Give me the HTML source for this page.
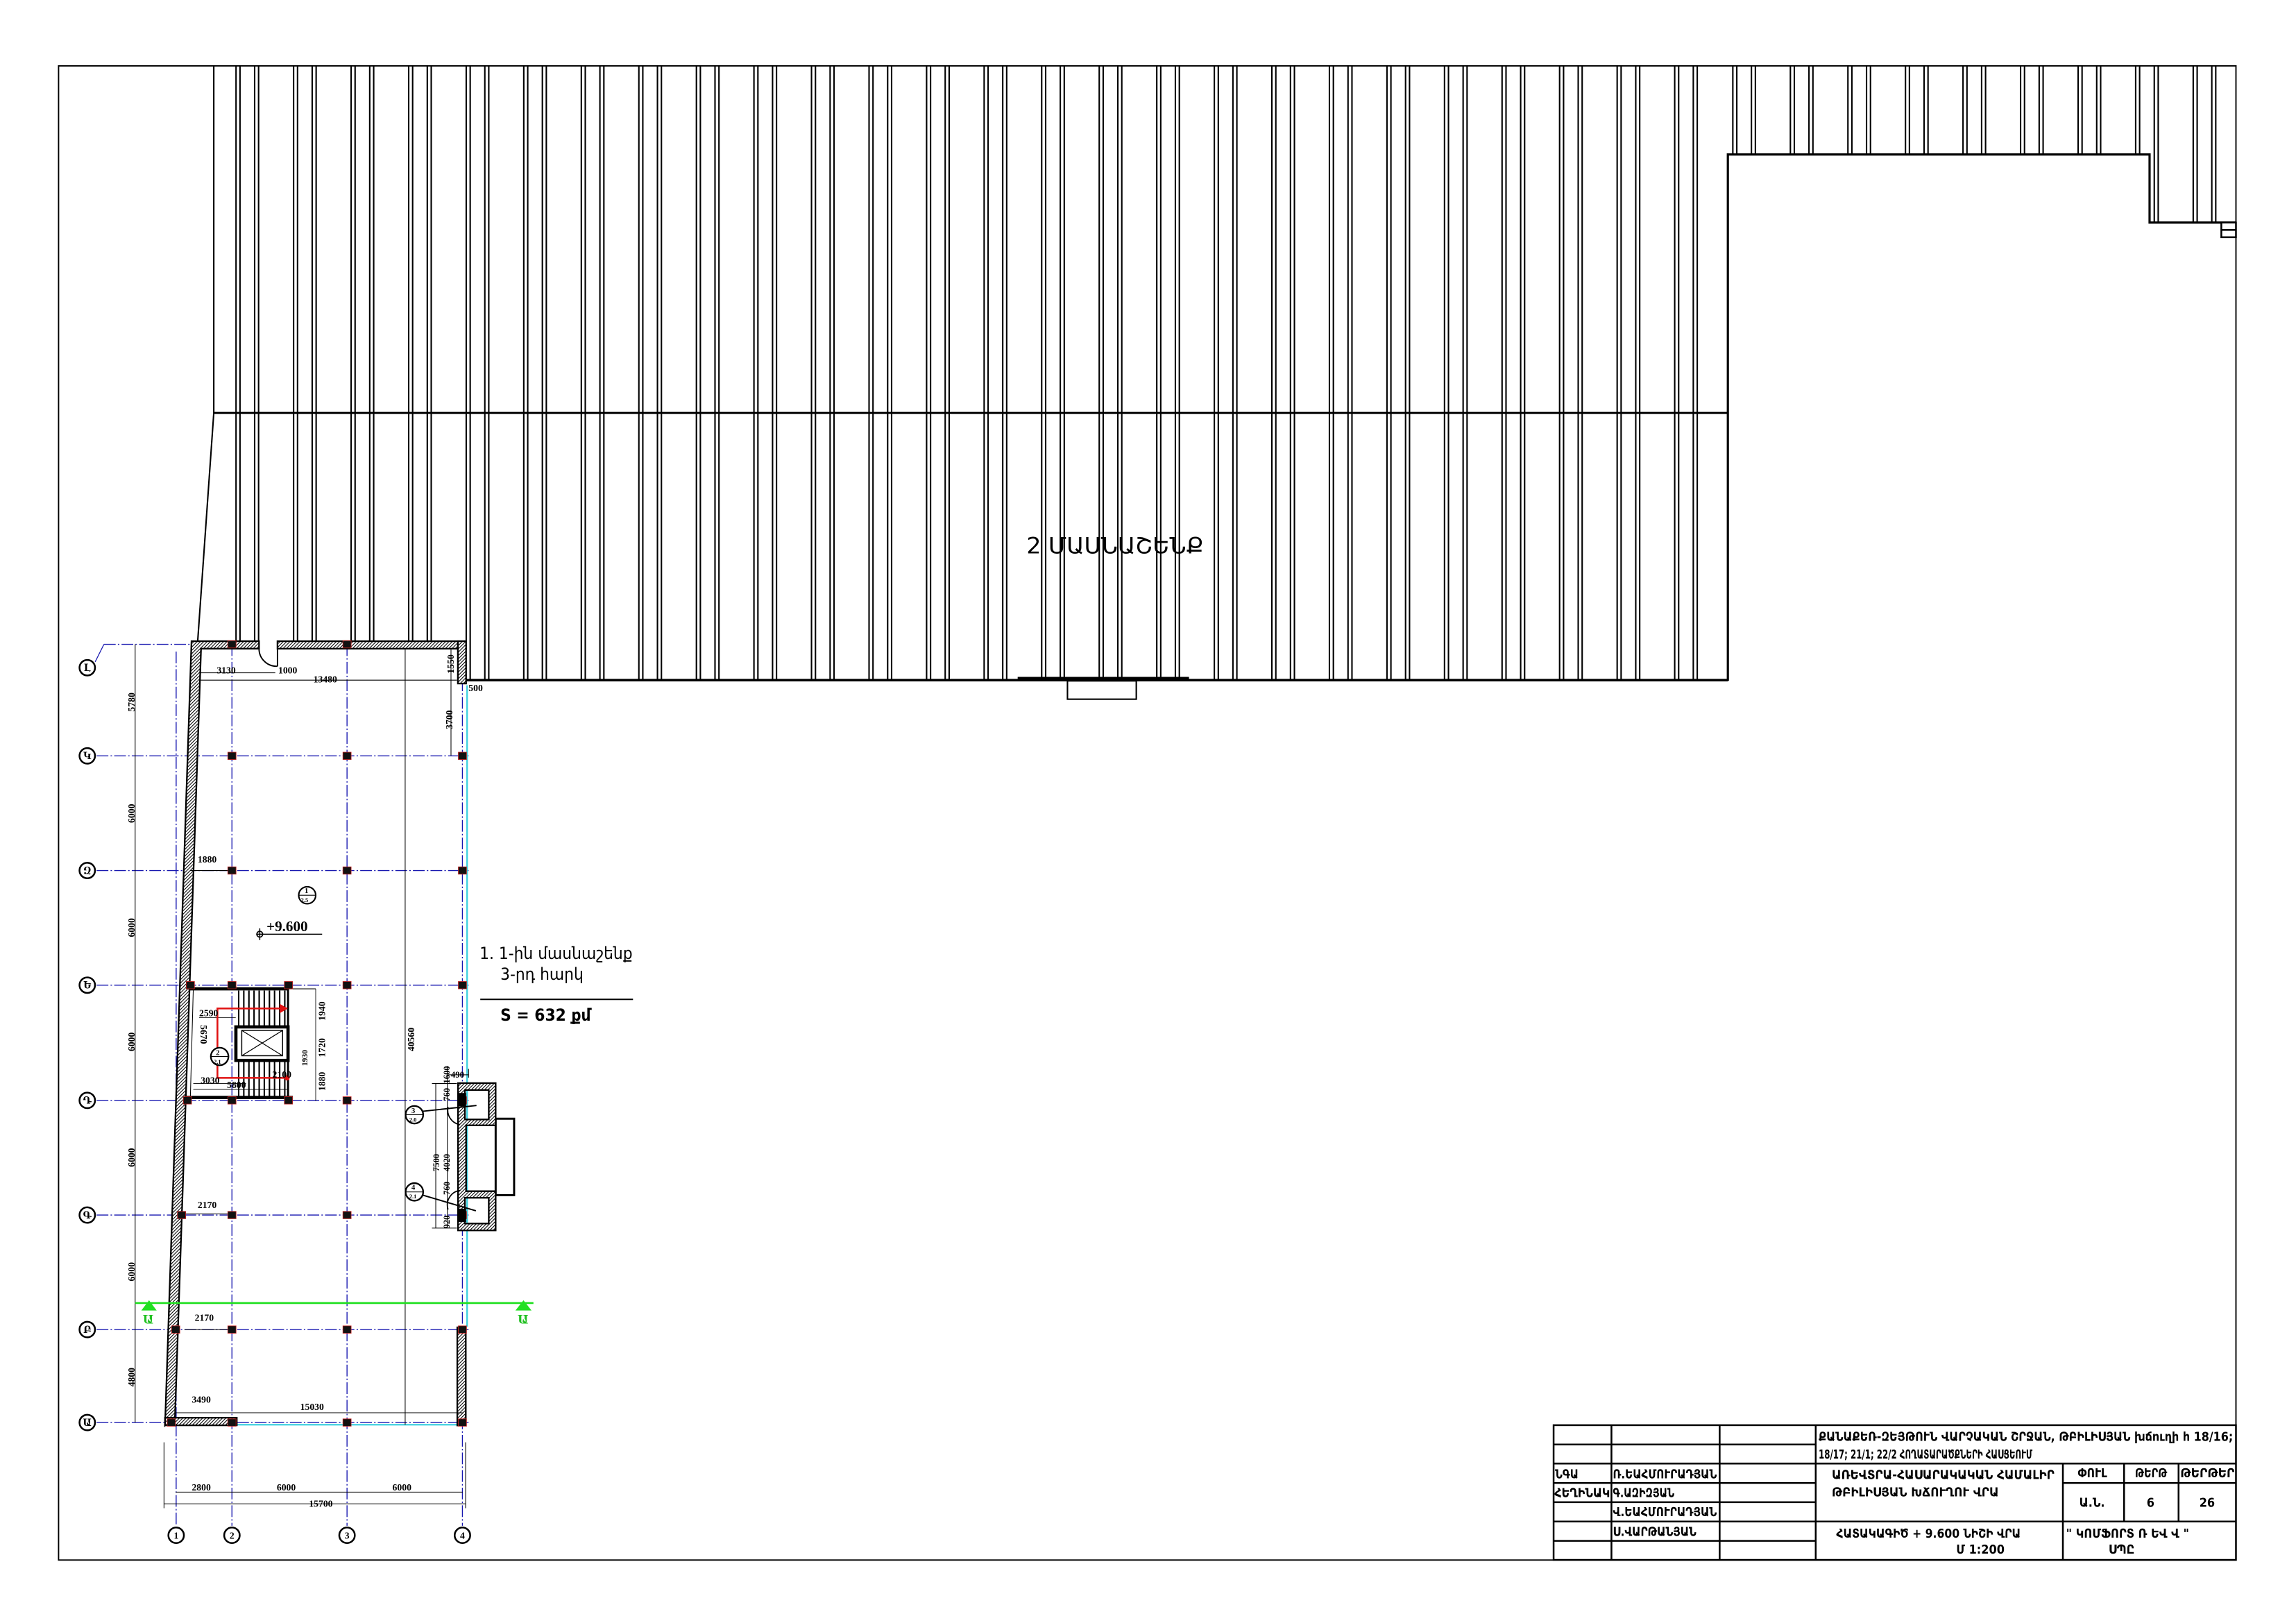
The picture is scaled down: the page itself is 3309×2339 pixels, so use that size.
<!DOCTYPE html>
<html><head><meta charset="utf-8"><style>
html,body{margin:0;padding:0;background:#fff;}
svg{display:block;}
.t{font-family:"Liberation Serif","DejaVu Serif",serif;font-weight:bold;fill:#000;}
.a{font-family:"DejaVu Sans Condensed","DejaVu Sans",sans-serif;fill:#000;}
.b{font-weight:bold;}
</style></head><body>
<svg id="s" xmlns="http://www.w3.org/2000/svg" width="3309" height="2339" viewBox="0 0 1568 1108.4" preserveAspectRatio="none">
<defs>
<pattern id="h" patternUnits="userSpaceOnUse" width="1.6" height="1.6" patternTransform="rotate(45)">
<rect width="1.6" height="1.6" fill="#fff"/><line x1="0" y1="0" x2="0" y2="1.6" stroke="#000" stroke-width="1"/>
</pattern>
</defs>
<rect width="1568" height="1108.4" fill="#fff"/>
<rect x="40" y="45" width="1487" height="1020.4" fill="none" stroke="#000" stroke-width="0.9"/>

<g id="hatchlines" stroke="#000" stroke-width="1"></g>

<g stroke="#000" fill="none">
<line x1="146" y1="45" x2="146" y2="282" stroke-width="1"/>
<line x1="146" y1="282" x2="135" y2="438" stroke-width="1"/>
<line x1="146" y1="282" x2="1180" y2="282" stroke-width="1.4"/>
<line x1="318" y1="464.5" x2="1180" y2="464.5" stroke-width="1.7"/>
<line x1="695" y1="463" x2="812" y2="463" stroke-width="1.5"/>
<rect x="729" y="465" width="47" height="12.5" stroke-width="1" fill="#fff"/>
<polyline points="1180,465 1180,105.5 1468,105.5 1468,152 1527,152" stroke-width="1.5"/>
<rect x="1517" y="152" width="10" height="10" stroke-width="1.2" fill="#fff"/>
<line x1="1517" y1="157" x2="1527" y2="157" stroke-width="1.2"/>
</g>
<text x="701" y="378" class="a" font-size="15" textLength="121" lengthAdjust="spacingAndGlyphs">2 ՄԱՍՆԱՇԵՆՔ</text>

<polygon points="131,442 318.6,442 318.6,468 320,468 320,975 112.7,975" fill="#fff"/>

<g stroke="#1818b0" stroke-width="0.65" stroke-dasharray="8,1.5,1,1.5">
<line x1="66" y1="516.2" x2="320" y2="516.2"/>
<line x1="66" y1="594.5" x2="320" y2="594.5"/>
<line x1="66" y1="672.8" x2="320" y2="672.8"/>
<line x1="66" y1="751.5" x2="320" y2="751.5"/>
<line x1="66" y1="829.8" x2="320" y2="829.8"/>
<line x1="66" y1="908" x2="320" y2="908"/>
<line x1="66" y1="971.5" x2="320" y2="971.5"/>
<line x1="71" y1="440" x2="135" y2="440"/>
<line x1="120.3" y1="445" x2="120.3" y2="1042"/>
<line x1="158.4" y1="440" x2="158.4" y2="1042"/>
<line x1="237" y1="440" x2="237" y2="1042"/>
<line x1="315.8" y1="440" x2="315.8" y2="1042"/>
</g>
<line x1="65" y1="452" x2="71" y2="440" stroke="#1818b0" stroke-width="0.6"/>

<g stroke="#3fd0e0" stroke-width="1.1">
<line x1="319" y1="468" x2="319" y2="906"/>
<line x1="161.5" y1="973" x2="315" y2="973"/>
</g>

<g fill="url(#h)" stroke="#000" stroke-width="1.1">
<polygon points="130.8,437.9 176.9,437.9 176.9,443 137.3,443 119.5,968 112.7,973.5"/>
<rect x="189.5" y="437.9" width="128.8" height="5.1"/>
<rect x="312.7" y="437.9" width="5.6" height="28.9"/>
<rect x="112.7" y="968.2" width="49" height="5.2"/>
<rect x="312.3" y="906.5" width="5.8" height="67"/>
</g>
<path d="M176.9,443 A12,12 0 0 0 189.5,455" fill="none" stroke="#000" stroke-width="0.9"/>
<line x1="189.5" y1="443" x2="189.5" y2="455" stroke="#000" stroke-width="0.9"/>
<g stroke="#000" stroke-width="0.5" fill="none">
<line x1="137" y1="459.5" x2="188" y2="459.5"/>
<line x1="137" y1="464.5" x2="312" y2="464.5"/>
<line x1="276.7" y1="443" x2="276.7" y2="973"/>
<line x1="308" y1="443" x2="308" y2="516"/>
<line x1="120" y1="964.8" x2="316" y2="964.8"/>
<line x1="124" y1="829" x2="158" y2="829"/>
<line x1="126" y1="908" x2="158" y2="908"/>
<line x1="130" y1="594.5" x2="158" y2="594.5"/>
<line x1="92.3" y1="440" x2="92.3" y2="971.5"/>
<line x1="112" y1="985" x2="112" y2="1030"/>
<line x1="318" y1="985" x2="318" y2="1030"/>
<line x1="120" y1="1019" x2="316" y2="1019"/>
<line x1="112" y1="1027" x2="318" y2="1027"/>
</g>
<g class="t" font-size="6.5">
<text x="148" y="460">3130</text>
<text x="190" y="460">1000</text>
<text x="214" y="466">13480</text>
<text x="320" y="472">500</text>
<text x="135" y="589">1880</text>
<text x="135" y="825">2170</text>
<text x="133" y="902">2170</text>
<text x="131" y="958">3490</text>
<text x="205" y="963">15030</text>
<text x="131" y="1018">2800</text>
<text x="189" y="1018">6000</text>
<text x="268" y="1018">6000</text>
<text x="211" y="1029">15700</text>
<text transform="translate(310,460) rotate(-90)">1550</text>
<text transform="translate(309,498) rotate(-90)">3700</text>
<text transform="translate(283,718) rotate(-90)">40560</text>
<text transform="translate(92,486) rotate(-90)">5780</text>
<text transform="translate(92,562) rotate(-90)">6000</text>
<text transform="translate(92,640) rotate(-90)">6000</text>
<text transform="translate(92,718) rotate(-90)">6000</text>
<text transform="translate(92,797) rotate(-90)">6000</text>
<text transform="translate(92,875) rotate(-90)">6000</text>
<text transform="translate(92,947) rotate(-90)">4800</text>
</g>

<g stroke="#000" fill="none">
<line x1="128.7" y1="675.3" x2="196.7" y2="675.3" stroke-width="2.2"/>
<line x1="196.7" y1="675.3" x2="215.6" y2="675.3" stroke-width="0.5"/>
<line x1="126" y1="749.5" x2="200" y2="749.5" stroke-width="2.2"/>
<line x1="132" y1="675.3" x2="130" y2="749.5" stroke-width="0.5"/>
<line x1="196.7" y1="675" x2="196.7" y2="750" stroke-width="1.4"/>
<rect x="161.1" y="701.3" width="35.6" height="22.9" stroke-width="2.2"/>
<rect x="165.1" y="703.7" width="27.9" height="17.3" stroke-width="0.7"/>
<path d="M165.1,703.7 L193,721 M193,703.7 L165.1,721" stroke-width="0.6"/>
<line x1="136" y1="695" x2="161" y2="695" stroke-width="0.4"/>
<line x1="132" y1="744" x2="196" y2="744" stroke-width="0.4"/>
<line x1="132" y1="740" x2="168" y2="740" stroke-width="0.4"/>
<line x1="215.6" y1="675.3" x2="215.6" y2="752" stroke-width="0.4"/>
</g>
<g id="treads" stroke="#000" stroke-width="1"></g>
<g stroke="#e01010" stroke-width="1.2" fill="none">
<polyline points="196,688.7 148.5,688.7 148.5,736.1 196,736.1"/>
</g>
<polygon points="191,685.5 196.5,688.7 191,692" fill="#e01010"/>
<circle cx="196" cy="736.1" r="1.8" fill="#e01010"/>
<g class="t" font-size="6.5">
<text x="136" y="694">2590</text>
<text x="137" y="740">3030</text>
<text x="155" y="743">5800</text>
<text x="186" y="736">2100</text>
<text transform="translate(222,697) rotate(-90)">1940</text>
<text transform="translate(222,722) rotate(-90)">1720</text>
<text transform="translate(222,745) rotate(-90)">1880</text>
<text transform="translate(137,700) rotate(90)">5670</text>
<text transform="translate(210,728) rotate(-90)" font-size="5.5">1930</text>
</g>
<circle cx="150" cy="721.5" r="6" fill="#fff" stroke="#000" stroke-width="1.1"/>
<line x1="144" y1="721.5" x2="156" y2="721.5" stroke="#000" stroke-width="0.5"/>
<text x="147.5" y="720.5" class="t" font-size="5">2</text>
<text x="146" y="726.5" class="t" font-size="4">2.1</text>

<g id="cols" fill="#111" stroke="#c02020" stroke-width="0.4"></g>

<circle cx="209.8" cy="611.4" r="5.8" fill="#fff" stroke="#000" stroke-width="1"/>
<line x1="204" y1="611.4" x2="215.6" y2="611.4" stroke="#000" stroke-width="0.5"/>
<text x="208" y="610" class="t" font-size="5">1</text>
<text x="205.5" y="616" class="t" font-size="4">2.5</text>
<line x1="175" y1="638" x2="220" y2="638" stroke="#000" stroke-width="0.7"/>
<circle cx="177.4" cy="638" r="2" fill="none" stroke="#000" stroke-width="0.8"/>
<line x1="177.4" y1="634" x2="177.4" y2="642" stroke="#000" stroke-width="0.7"/>
<text x="182" y="636" class="t" font-size="10" font-weight="normal">+9.600</text>

<text x="327.5" y="655" class="a" font-size="11.5">1. 1-ին մասնաշենք</text>
<text x="341.7" y="669" class="a" font-size="11.5">3-րդ հարկ</text>
<line x1="328" y1="682.5" x2="432.3" y2="682.5" stroke="#000" stroke-width="0.9"/>
<text x="341.7" y="697" class="a b" font-size="11.5">S = 632 քմ</text>

<g stroke="#000" stroke-width="1.1">
<rect x="338.5" y="764" width="12.6" height="52.2" fill="#fff" stroke-width="1.4"/>
<path d="M312.8,739.7 H338.5 V768.5 H318.3 V813.5 H338.5 V840.3 H312.8 Z M317.5,744.4 V764.5 H333.8 V744.4 Z M317.5,818 V835.6 H333.8 V818 Z" fill="url(#h)" fill-rule="evenodd"/>
<rect x="312.8" y="747" width="5" height="8" fill="#000"/>
<rect x="312.8" y="826" width="5" height="8" fill="#000"/>
</g>
<g stroke="#000" stroke-width="0.5" fill="none">
<line x1="297.6" y1="740" x2="297.6" y2="838.7"/>
<line x1="305.5" y1="728" x2="305.5" y2="838.7"/>
<line x1="295" y1="740" x2="312" y2="740"/>
<line x1="295" y1="838.7" x2="312" y2="838.7"/>
<line x1="288" y1="759" x2="325.4" y2="755" stroke-width="0.9"/>
<line x1="288" y1="816" x2="325" y2="826.9" stroke-width="0.9"/>
<path d="M306,756 A10,10 0 0 0 314,768" stroke-width="0.8"/>
<path d="M314,813 A10,10 0 0 0 306,826" stroke-width="0.8"/>
<line x1="306" y1="734" x2="320" y2="734"/>
<line x1="320" y1="730" x2="320" y2="736"/>
</g>
<circle cx="283" cy="761.3" r="6" fill="#fff" stroke="#000" stroke-width="1.1"/>
<line x1="277" y1="761.3" x2="289" y2="761.3" stroke="#000" stroke-width="0.5"/>
<text x="281" y="760" class="t" font-size="5">3</text><text x="279.5" y="766" class="t" font-size="4">2.0</text>
<circle cx="283" cy="814" r="6" fill="#fff" stroke="#000" stroke-width="1.1"/>
<line x1="277" y1="814" x2="289" y2="814" stroke="#000" stroke-width="0.5"/>
<text x="281" y="812.5" class="t" font-size="5">4</text><text x="279.5" y="818.5" class="t" font-size="4">2.1</text>
<g class="t" font-size="6">
<text transform="translate(300,800) rotate(-90)">7500</text>
<text transform="translate(307,800) rotate(-90)">4020</text>
<text transform="translate(307,752) rotate(-90)">760</text>
<text transform="translate(307,816) rotate(-90)">760</text>
<text transform="translate(307,839) rotate(-90)">920</text>
<text transform="translate(307,740) rotate(-90)">1600</text>
<text x="308" y="736">490</text>
</g>

<line x1="92.3" y1="889.9" x2="364.3" y2="889.9" stroke="#22e022" stroke-width="1.3"/>
<polygon points="96.5,895 101.8,888 107,895" fill="#22e022"/>
<polygon points="352,895 357.5,888 363,895" fill="#22e022"/>
<text x="97.5" y="904" class="t" font-size="8" style="fill:#22c022">Ա</text>
<text x="353.5" y="904" class="t" font-size="8" style="fill:#22c022">Ա</text>

<g id="bub" class="t" font-size="6.5" text-anchor="middle"></g>

<g stroke="#000" stroke-width="1.2" fill="none">
<rect x="1061" y="973.3" width="466" height="92"/>
<line x1="1061" y1="986.5" x2="1240" y2="986.5"/>
<line x1="1061" y1="999.5" x2="1527" y2="999.5"/>
<line x1="1061" y1="1012.8" x2="1240" y2="1012.8"/>
<line x1="1408.8" y1="1012.8" x2="1527" y2="1012.8"/>
<line x1="1061" y1="1025.9" x2="1240" y2="1025.9"/>
<line x1="1061" y1="1039.1" x2="1527" y2="1039.1"/>
<line x1="1061" y1="1052.3" x2="1240" y2="1052.3"/>
<line x1="1100.5" y1="973.3" x2="1100.5" y2="1065.4"/>
<line x1="1174.4" y1="973.3" x2="1174.4" y2="1065.4"/>
<line x1="1240" y1="973.3" x2="1240" y2="1065.4"/>
<line x1="1408.8" y1="999.5" x2="1408.8" y2="1065.4"/>
<line x1="1450.6" y1="999.5" x2="1450.6" y2="1039.1"/>
<line x1="1487.8" y1="999.5" x2="1487.8" y2="1039.1"/>
</g>
<g class="a b" font-size="8.5">
<text x="1242" y="984" textLength="283" lengthAdjust="spacingAndGlyphs">ՔԱՆԱՔԵՌ-ԶԵՅԹՈՒՆ ՎԱՐՉԱԿԱՆ ՇՐՋԱՆ, ԹԲԻԼԻՍՅԱՆ խճուղի հ 18/16;</text>
<text x="1242" y="996" textLength="146" lengthAdjust="spacingAndGlyphs">18/17; 21/1; 22/2 ՀՈՂԱՏԱՐԱԾՔՆԵՐԻ ՀԱՍՑԵՈՒՄ</text>
<text x="1251" y="1010" textLength="152" lengthAdjust="spacingAndGlyphs">ԱՌԵՎՏՐԱ-ՀԱՍԱՐԱԿԱԿԱՆ ՀԱՄԱԼԻՐ</text>
<text x="1251" y="1022" textLength="114" lengthAdjust="spacingAndGlyphs">ԹԲԻԼԻՍՅԱՆ ԽՃՈՒՂՈՒ ՎՐԱ</text>
<text x="1419" y="1009" textLength="20" lengthAdjust="spacingAndGlyphs">ՓՈՒԼ</text>
<text x="1458" y="1009" textLength="22" lengthAdjust="spacingAndGlyphs">ԹԵՐԹ</text>
<text x="1489" y="1009" textLength="37" lengthAdjust="spacingAndGlyphs">ԹԵՐԹԵՐ</text>
<text x="1420" y="1029">Ա.Ն.</text>
<text x="1466" y="1029">6</text>
<text x="1502" y="1029">26</text>
<text x="1254" y="1050" textLength="126" lengthAdjust="spacingAndGlyphs">ՀԱՏԱԿԱԳԻԾ + 9.600 ՆԻՇԻ ՎՐԱ</text>
<text x="1336" y="1061">Մ 1:200</text>
<text x="1411" y="1050" textLength="84" lengthAdjust="spacingAndGlyphs">" ԿՈՄՖՈՐՏ Ռ ԵՎ Վ "</text>
<text x="1440" y="1061">ՍՊԸ</text>
<text x="1062" y="1009.5" textLength="16" lengthAdjust="spacingAndGlyphs">ՆԳԱ</text>
<text x="1101.5" y="1009.5" textLength="71" lengthAdjust="spacingAndGlyphs">Ռ.ԵԱՀՄՈՒՐԱԴՅԱՆ</text>
<text x="1061.5" y="1022.5" textLength="38" lengthAdjust="spacingAndGlyphs">ՀԵՂԻՆԱԿ</text>
<text x="1101.5" y="1022.5" textLength="42" lengthAdjust="spacingAndGlyphs">Գ.ԱԶԻԶՅԱՆ</text>
<text x="1101.5" y="1035.5" textLength="71" lengthAdjust="spacingAndGlyphs">Վ.ԵԱՀՄՈՒՐԱԴՅԱՆ</text>
<text x="1101.5" y="1049" textLength="57" lengthAdjust="spacingAndGlyphs">Ս.ՎԱՐԹԱՆՅԱՆ</text>
</g>
</svg>
<script>
(function(){
var NS="http://www.w3.org/2000/svg";
function L(g,x1,y1,x2,y2){var l=document.createElementNS(NS,"line");l.setAttribute("x1",x1);l.setAttribute("y1",y1);l.setAttribute("x2",x2);l.setAttribute("y2",y2);g.appendChild(l);}
var g=document.getElementById("hatchlines");
function bottom(x){ if(x<318.6) return 438; return 464.5; }
for(var k=0;k<26;k++){
 var b=161.2+k*39.3;
 [b,b+2.7,b+12.7,b+15.4].forEach(function(x){ if(x<1178) L(g,x,45,x,bottom(x)); });
}
for(var k=0;k<9;k++){
 var b=1183.4+k*39.3;
 [b,b+2.7,b+12.7,b+15.4].forEach(function(x){ if(x<1526){ L(g,x,45,x,(x<1468?105.5:152)); } });
}
var t=document.getElementById("treads");
for(var x=163;x<196;x+=3.5){L(t,x,676.5,x,701);L(t,x,724.5,x,748.5);}
var c=document.getElementById("cols");
function C(x,y){var r=document.createElementNS(NS,"rect");r.setAttribute("x",x-2.8);r.setAttribute("y",y-2.5);r.setAttribute("width",5.6);r.setAttribute("height",5);c.appendChild(r);}
var rows=[516.2,594.5,672.8,751.5,829.8,908,971.5];
[158.4,237,315.8].forEach(function(x){rows.forEach(function(y){C(x,y);});});
C(130,672.8);C(128,751.5);C(124,829.8);C(120,908);C(117,971.5);
C(197,672.8);C(197,751.5);C(158.4,440);C(237,440);
var bb=document.getElementById("bub");
function B(x,y,s){var ci=document.createElementNS(NS,"circle");ci.setAttribute("cx",x);ci.setAttribute("cy",y);ci.setAttribute("r",5.3);ci.setAttribute("fill","#fff");ci.setAttribute("stroke","#000");ci.setAttribute("stroke-width","1.2");bb.appendChild(ci);var tx=document.createElementNS(NS,"text");tx.setAttribute("x",x);tx.setAttribute("y",y+2.3);tx.textContent=s;bb.appendChild(tx);}
B(59.6,456,"Լ");B(59.6,516.2,"Կ");B(59.6,594.5,"Զ");B(59.6,672.8,"Ե");B(59.6,751.5,"Դ");B(59.6,829.8,"Գ");B(59.6,908,"Բ");B(59.6,971.5,"Ա");
B(120.3,1048.5,"1");B(158.4,1048.5,"2");B(237,1048.5,"3");B(315.8,1048.5,"4");
})();
</script>
</body></html>
